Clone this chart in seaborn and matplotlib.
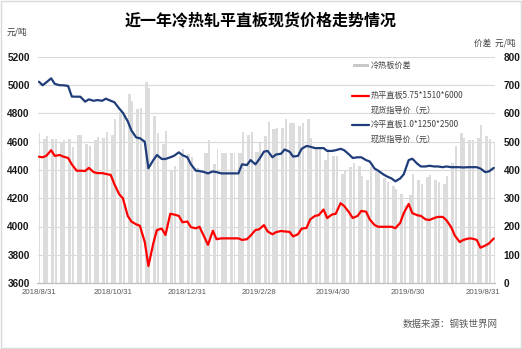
import numpy as np
import pandas as pd
import matplotlib
matplotlib.use("Agg")
import matplotlib.pyplot as plt
import matplotlib.dates as mdates
import seaborn as sns
from matplotlib.lines import Line2D
from matplotlib.patches import Rectangle

# ---- data ---------------------------------------------------------------
# Quotation days: the first trading day plus every Monday and Thursday
start_day = "2018-08-31"
end_day = "2019-09-09"

# 冷平直板1.0*1250*2500 现货指导价 (元/吨)
cold_price = [
    5025,                                                   # 8/31
    5000, 5020, 5049, 5010, 5000, 5000, 4995, 4920,         # Sep
    4919, 4919, 4884, 4900, 4890, 4895, 4890, 4905, 4890,   # Oct
    4880, 4835, 4805, 4745, 4680, 4630, 4625, 4600, 4412,   # Nov
    4470, 4506, 4478, 4478, 4490, 4500, 4525, 4505, 4490,   # Dec
    4440, 4395, 4393, 4385, 4376, 4390, 4385, 4376, 4376,   # Jan
    4376, 4376, 4376, 4440, 4435, 4470, 4440, 4475,         # Feb
    4530, 4535, 4490, 4510, 4515, 4545, 4530, 4495,         # Mar
    4500, 4550, 4570, 4565, 4555, 4555, 4555, 4535, 4535,   # Apr
    4540, 4550, 4540, 4510, 4485, 4490, 4490, 4470, 4460,   # May
    4410, 4395, 4370, 4355, 4340, 4320, 4340, 4370,         # Jun
    4470, 4480, 4445, 4425, 4425, 4430, 4425, 4425, 4420,   # Jul
    4425, 4420, 4420, 4420, 4418, 4420, 4420, 4420, 4410,   # Aug
    4385, 4390, 4415,                                       # Sep
]

# 热平直板5.75*1510*6000 现货指导价 (元/吨)
hot_price = [
    4494,
    4490, 4500, 4540, 4500, 4506, 4495, 4485, 4440,
    4395, 4395, 4393, 4415, 4385, 4378, 4378, 4372, 4365,
    4300, 4228, 4200, 4075, 4035, 4015, 4005, 3890, 3720,
    3880, 3975, 3985, 3940, 4090, 4085, 4075, 4030, 4035,
    3995, 3987, 3998, 3925, 3870, 3970, 3910, 3916, 3916,
    3916, 3916, 3916, 3905, 3910, 3935, 3975, 3980,
    4010, 3965, 3945, 3960, 3968, 3965, 3962, 3930,
    3945, 3985, 3990, 4050, 4075, 4080, 4120, 4060, 4085,
    4090, 4165, 4145, 4100, 4060, 4075, 4110, 4105, 4050,
    4010, 3998, 3998, 3998, 3998, 3988, 4025, 4095,
    4160, 4095, 4080, 4075, 4050, 4046, 4060, 4068, 4068,
    4045, 3995, 3935, 3890, 3905, 3915, 3915, 3905, 3850,
    3865, 3880, 3915,
]

tick_dates = ["2018-08-31", "2018-10-31", "2018-12-31", "2019-02-28",
              "2019-04-30", "2019-06-30", "2019-08-31"]
tick_labels = ["2018/8/31", "2018/10/31", "2018/12/31", "2019/2/28",
               "2019/4/30", "2019/6/30", "2019/8/31"]
price_ticks = [3600, 3800, 4000, 4200, 4400, 4600, 4800, 5000, 5200]
spread_ticks = [0, 100, 200, 300, 400, 500, 600, 700, 800]

title = "近一年冷热轧平直板现货价格走势情况"
legend_labels = ["冷热板价差",
                 "热平直板5.75*1510*6000\n现货指导价（元）",
                 "冷平直板1.0*1250*2500\n现货指导价（元）"]
source_note = "数据来源：钢铁世界网"

# ---- frame --------------------------------------------------------------
days = pd.DatetimeIndex([pd.Timestamp(start_day)]).append(
    pd.date_range("2018-09-03", end_day, freq="D")
)
days = days[(days == pd.Timestamp(start_day)) | days.weekday.isin([0, 3])]
df = pd.DataFrame({"date": days, "cold": cold_price, "hot": hot_price})
df["x"] = mdates.date2num(df["date"])
df["spread"] = df["cold"] - df["hot"]
# bars span the trading days they stand for, leaving weekends blank
df["width"] = df["date"].dt.weekday.map({0: 2.6, 3: 1.6, 4: 0.8})

# ---- style --------------------------------------------------------------
sns.set_theme(style="white")
plt.rcParams["font.family"] = ["Noto Sans CJK SC", "DejaVu Sans"]
LAT = ["Liberation Sans", "DejaVu Sans"]
CJK = ["Noto Sans CJK SC", "DejaVu Sans"]
RED = "#FF0000"
BLUE = "#1F3D7A"
BAR = "#DCDCDC"
GRID = "#D9D9D9"

W, H = 522, 349
fig = plt.figure(figsize=(W / 100, H / 100), dpi=100)
ax_bar = fig.add_axes([37.5 / W, 66 / H, 458 / W, 226 / H])
ax_line = ax_bar.twinx()

# spread bars on the right-hand axis
ax_bar.bar(df["x"], df["spread"], width=df["width"], align="edge",
           color=BAR, linewidth=0, zorder=2)
ax_bar.set_ylim(0, 800)
ax_bar.set_yticks(spread_ticks)
ax_bar.yaxis.tick_right()
ax_bar.grid(axis="y", color=GRID, linewidth=0.8, zorder=0)
ax_bar.set_axisbelow(True)

# price lines on the left-hand axis
sns.lineplot(data=df, x="x", y="hot", ax=ax_line, color=RED, linewidth=1.6)
sns.lineplot(data=df, x="x", y="cold", ax=ax_line, color=BLUE, linewidth=1.6)
ax_line.set_ylim(3600, 5200)
ax_line.set_yticks(price_ticks)
ax_line.yaxis.tick_left()
ax_line.grid(False)

x0 = mdates.date2num(pd.Timestamp(start_day))
ax_bar.set_xlim(x0 - 1.2, x0 + 375.4)
ax_bar.set_xticks(mdates.date2num(pd.to_datetime(tick_dates)))
ax_bar.set_xticklabels(tick_labels)

for a in (ax_bar, ax_line):
    a.set_xlabel("")
    a.set_ylabel("")
    for side in ("top", "left", "right"):
        a.spines[side].set_visible(False)
    a.spines["bottom"].set_color("#BFBFBF")
    a.spines["bottom"].set_linewidth(0.8)
    a.tick_params(length=0)

ax_bar.tick_params(axis="x", pad=4.5, labelsize=5.6, labelcolor="#595959")
ax_bar.tick_params(axis="y", pad=6, labelsize=7.2, labelcolor="#1A1A1A")
ax_line.tick_params(axis="y", pad=5.5, labelsize=7.2, labelcolor="#1A1A1A")
for lab in ax_bar.get_xticklabels():
    lab.set_family(LAT)
for lab in ax_bar.get_yticklabels() + ax_line.get_yticklabels():
    lab.set_family(LAT)
    lab.set_fontweight("bold")

# ---- annotations in pixel coordinates -----------------------------------
ov = fig.add_axes([0, 0, 1, 1], zorder=10)
ov.set_xlim(0, W)
ov.set_ylim(H, 0)
ov.axis("off")
ov.patch.set_visible(False)

ov.add_patch(Rectangle((0.8, 0.8), W - 1.6, H - 1.6, fill=False,
                       edgecolor="#D9D9D9", linewidth=1.0))
ov.text(261, 20.5, title, ha="center", va="center", fontsize=11.5,
        fontweight="bold", family=CJK, color="#000000")
ov.text(7, 32.5, "元/吨", ha="left", va="center", fontsize=6.2,
        family=CJK, color="#404040")
ov.text(516, 43, "价差  元/吨", ha="right", va="center", fontsize=6.2,
        family=CJK, color="#404040")
ov.text(498, 324, source_note, ha="right", va="center", fontsize=6.8,
        family=CJK, color="#595959")

ov.add_patch(Rectangle((352.5, 63.5), 16, 3.5, color="#C8C8C8", linewidth=0))
ov.add_line(Line2D([352, 369], [96, 96], color=RED, linewidth=1.6))
ov.add_line(Line2D([352, 369], [125, 125], color=BLUE, linewidth=1.6))
legend_y = [65.5, 103, 132]
for label, yy in zip(legend_labels, legend_y):
    ov.text(370.5, yy, label, ha="left", va="center", fontsize=5.9,
            family=CJK, color="#404040", linespacing=1.75)

fig.savefig("out.png", dpi=100)
